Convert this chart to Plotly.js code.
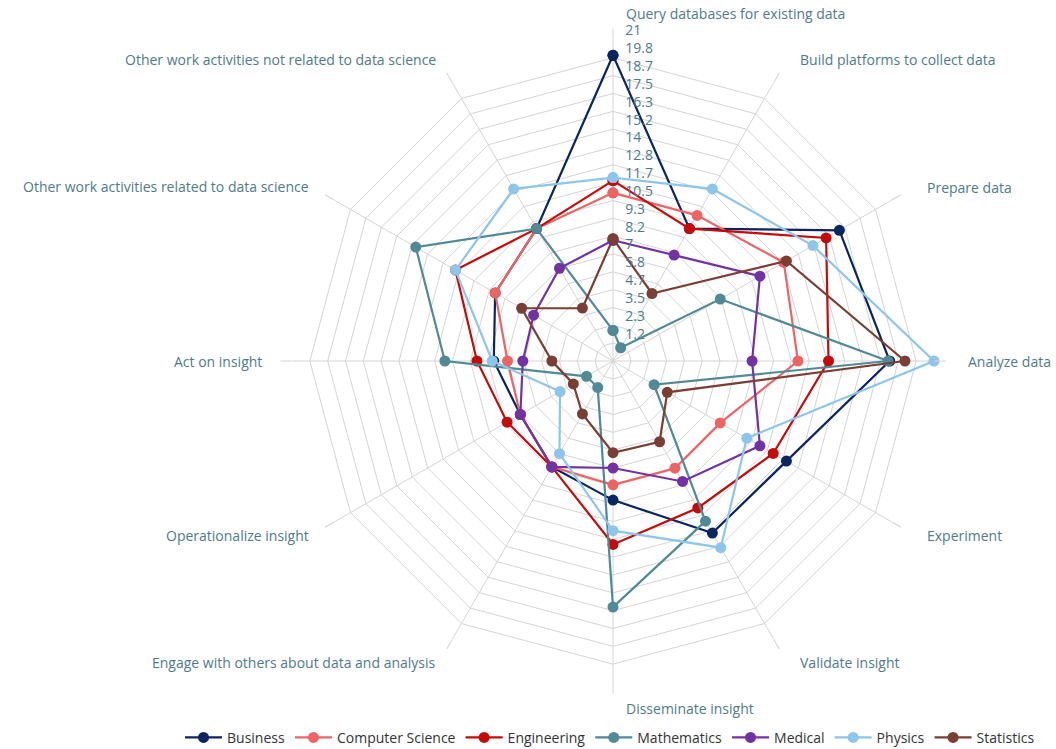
<!DOCTYPE html>
<html>
<head>
<meta charset="utf-8">
<script src="https://cdn.plot.ly/plotly-3.0.1.min.js"></script>
<style>
  html, body { margin: 0; padding: 0; background: #ffffff; }
  #chart { width: 1056px; height: 749px; }
</style>
</head>
<body>
<div id="chart"></div>
<script>
const categories = [
  "Query databases for existing data",
  "Build platforms to collect data",
  "Prepare data",
  "Analyze data",
  "Experiment",
  "Validate insight",
  "Disseminate insight",
  "Engage with others about data and analysis",
  "Operationalize insight",
  "Act on insight",
  "Other work activities related to data science",
  "Other work activities not related to data science"
];

const seriesNames = ["Business", "Computer Science", "Engineering", "Mathematics", "Medical", "Physics", "Statistics"];

const business        = [20.0, 10.0, 17.1, 18.1, 13.1, 13.0,  9.1, 8.0, 7.0, 7.8,  8.9, 10.0];
const computerScience = [11.0, 11.0, 12.9, 12.1,  8.1,  8.1,  8.1, 8.0, 7.0, 6.9,  8.9, 10.0];
const engineering     = [11.8, 10.0, 16.1, 14.1, 12.1, 11.1, 12.0, 8.0, 8.0, 8.9, 11.9, 10.0];
const mathematics     = [ 2.0,  1.0,  8.1, 18.0,  3.1, 12.1, 16.1, 2.0, 2.0, 11.0, 14.9, 10.0];
const medical         = [ 7.9,  8.0, 11.1,  9.1, 11.1,  9.1,  7.0, 8.0, 7.0, 5.9,  6.0,  7.0];
const physics         = [12.0, 13.0, 15.1, 21.0, 10.1, 14.1, 11.1, 7.0, 4.0, 7.9, 11.9, 13.0];
const statistics      = [ 8.0,  5.1, 13.1, 19.1,  4.1,  6.1,  6.0, 4.0, 3.0, 4.0,  6.9,  4.0];

const radialMax = 21;
const radialSteps = 18;
const tickValues = [];
for (let i = 1; i <= radialSteps; i++) tickValues.push(radialMax * i / radialSteps);
// labels sit just above their ring: an empty second line lifts each label half a line
const tickLabels = tickValues.map(v => String(Math.round(v * 10) / 10) + "<br> ");

const colors = ["#0b2560", "#ec6464", "#c40a0a", "#4f8a96", "#7232a4", "#8ec5ea", "#7a3f34"];
const values = [business, computerScience, engineering, mathematics, medical, physics, statistics];

const labelColor = "#4f7b88";
const gridColor = "#d4d4d4";
const W = 1056, H = 749;
const M = { l: 226, r: 56, t: 40, b: 67 };

const traces = values.map((vals, i) => ({
  type: "scatterpolar",
  name: seriesNames[i],
  r: vals.concat([vals[0]]),
  theta: categories.concat([categories[0]]),
  mode: "lines+markers",
  line: { color: colors[i], width: 2.2 },
  marker: { color: colors[i], size: 11 },
  hoverinfo: "name+r+theta"
}));

// category labels placed around the polygon, following the angular axis order
const plotW = W - M.l - M.r, plotH = H - M.t - M.b;
const labelDist = 348; // px from the centre
const annotations = categories.map((txt, k) => {
  const ang = (90 - k * 360 / categories.length) * Math.PI / 180;
  const c = Math.cos(ang), s = Math.sin(ang);
  const leftSide = c < -0.01;
  return {
    text: txt,
    xref: "paper", yref: "paper",
    x: 0.5 + labelDist * c / plotW,
    y: 0.5 + labelDist * s / plotH,
    xanchor: leftSide ? "right" : "left",
    yanchor: "middle",
    xshift: leftSide ? -1 : (Math.abs(s) < 0.01 ? 5 : 11),
    showarrow: false,
    font: { size: 14, color: labelColor }
  };
});

const layout = {
  width: W,
  height: H,
  paper_bgcolor: "#ffffff",
  plot_bgcolor: "#ffffff",
  margin: { l: M.l, r: M.r, t: M.t, b: M.b, autoexpand: false },
  font: { family: "Open Sans, sans-serif", size: 14, color: labelColor },
  showlegend: true,
  legend: {
    orientation: "h",
    xref: "paper",
    x: -0.0594,
    xanchor: "left",
    yref: "paper",
    y: -0.087,
    yanchor: "middle",
    itemwidth: 37,
    font: { size: 14, color: "#333333" }
  },
  annotations: annotations,
  polar: {
    domain: { x: [0, 1], y: [0, 1] },
    gridshape: "linear",
    bgcolor: "#ffffff",
    radialaxis: {
      range: [0, radialMax],
      angle: 90,
      tickangle: 90,
      tickvals: tickValues,
      ticktext: tickLabels,
      showline: false,
      ticks: "outside",
      ticklen: 9,
      tickcolor: "rgba(0,0,0,0)",
      gridcolor: gridColor,
      gridwidth: 1,
      tickfont: { size: 14, color: labelColor }
    },
    angularaxis: {
      rotation: 90,
      direction: "clockwise",
      showline: false,
      showticklabels: false,
      gridcolor: gridColor,
      ticks: "outside",
      ticklen: 11,
      tickcolor: gridColor
    }
  }
};

Plotly.newPlot("chart", traces, layout, { displayModeBar: false, responsive: false });
</script>
</body>
</html>
